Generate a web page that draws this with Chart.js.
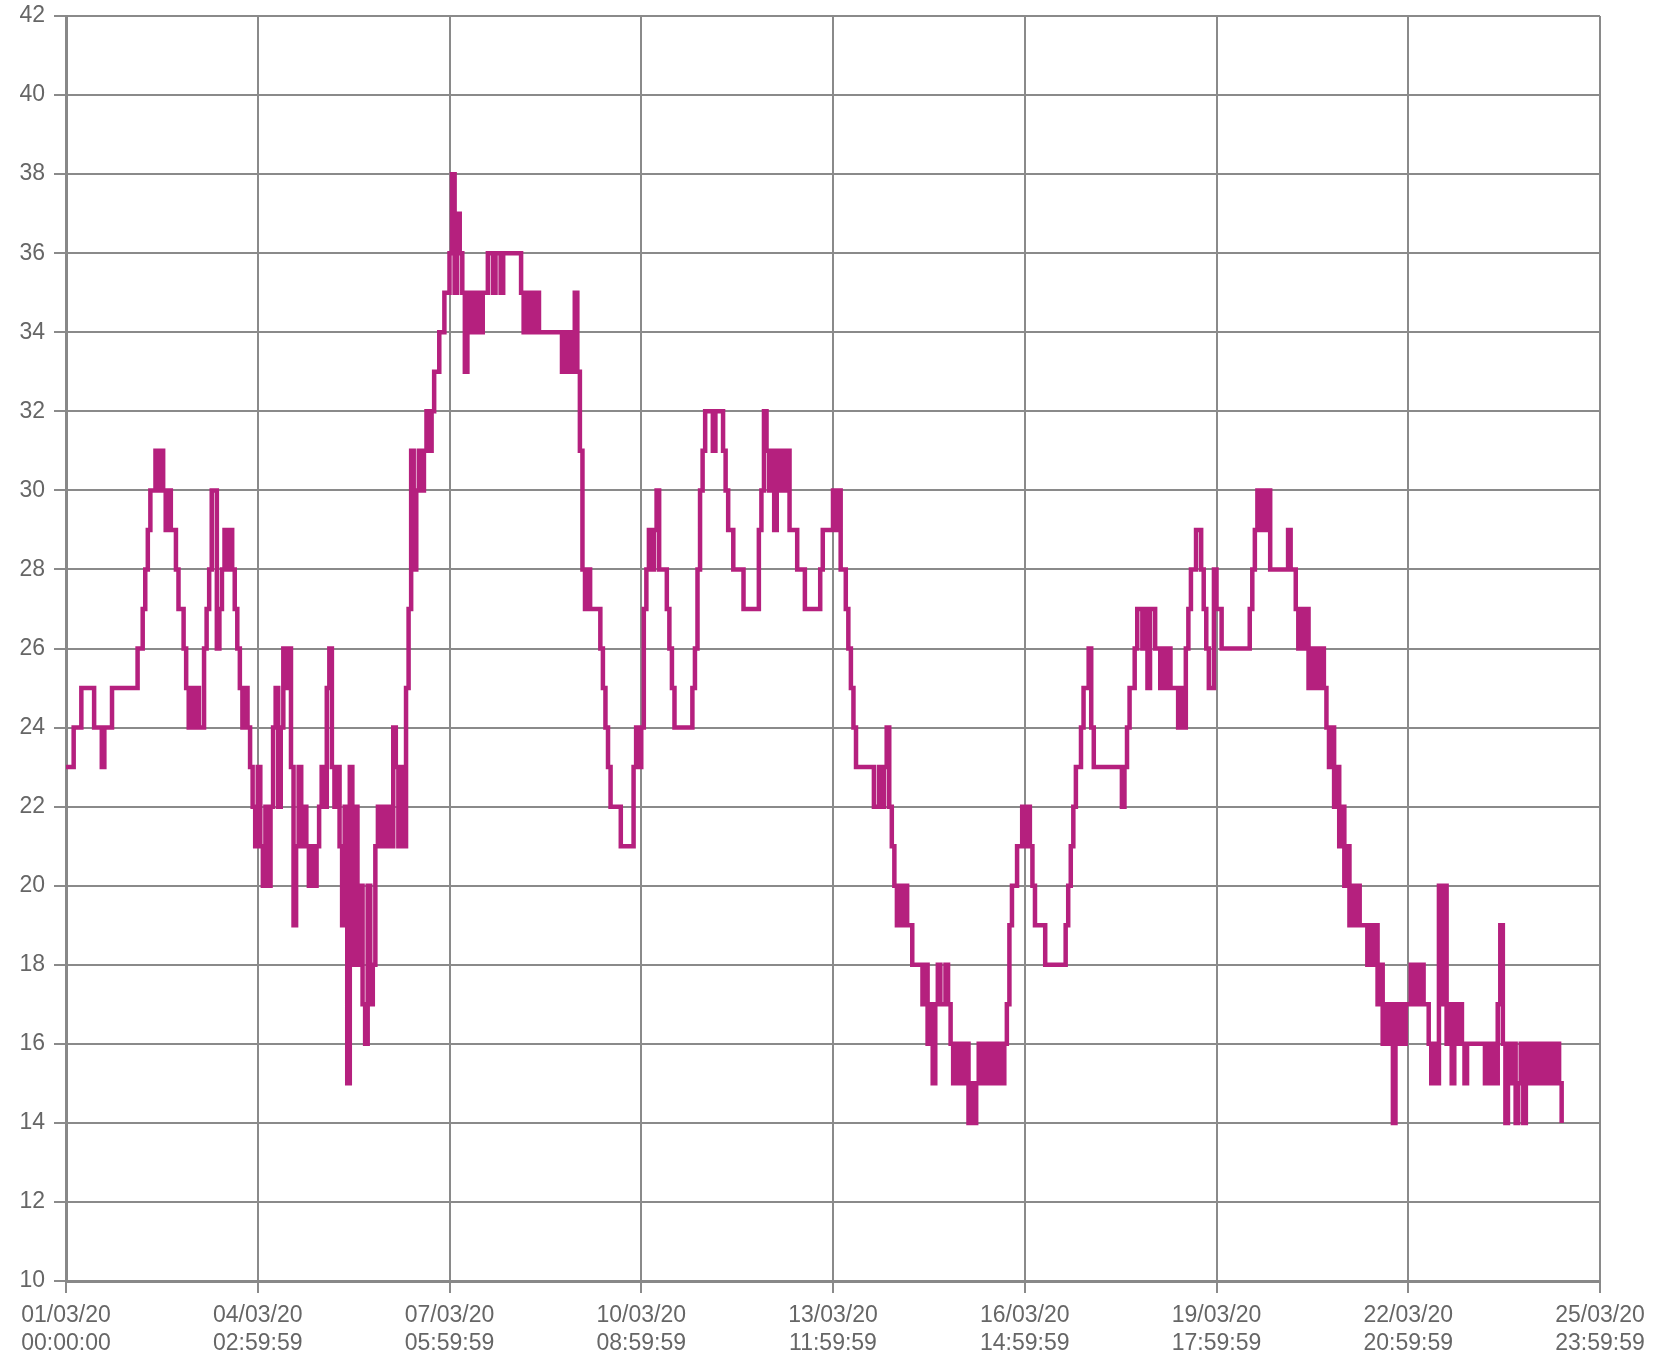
<!DOCTYPE html>
<html>
<head>
<meta charset="utf-8">
<script src="https://cdn.jsdelivr.net/npm/chart.js@4/dist/chart.umd.min.js"></script>
<style>
  html, body { margin: 0; padding: 0; background: #fff; }
  #wrap { width: 1669px; height: 1354px; }
</style>
</head>
<body>
<div id="wrap"><canvas id="tempChart" width="1669" height="1354"></canvas></div>
<script>
// hourly readings from 01/03/20 00:00, stored as [hour, value] at each change
const week1 = [
  [0,23],[3,24],[6,25],[11,24],[14,23],[15,24],[18,25],[28,26],[30,27],[31,28],[32,29],[33,30],
  [35,31],[36,30],[37,31],[38,30],[39,29],[40,30],[41,29],[43,28],[44,27],[46,26],[47,25],
  [48,24],[49,25],[50,24],[51,25],[52,24],[54,26],[55,27],[56,28],[57,30],[59,26],[60,27],
  [61,28],[62,29],[63,28],[64,29],[65,28],[66,27],[67,26],[68,25],[69,24],[70,25],[71,24],
  [72,23],[73,22],[74,21],[75,23],[76,21],[77,20],[78,22],[79,20],[80,22],[81,24],[82,25],
  [83,22],[84,24],[85,26],[86,25],[87,26],[88,23],[89,19],[90,21],[91,23],[92,21],[93,22],
  [94,21],[95,20],[96,21],[97,20],[98,21],[99,22],[100,23],[101,22],[102,25],[103,26],[104,23],
  [105,22],[106,23],[107,21],[108,19],[109,22],[110,15],[111,23],[112,18],[113,22],[114,18],
  [115,20],[116,17],[117,16],[118,20],[119,17],[120,18],[121,21],[122,22],[123,21],[124,22],
  [125,21],[126,22],[127,21],[128,24],[129,23],[130,21],[131,23],[132,21]
];
const week2 = [
  [133,25],[134,27],[135,31],[136,28],[137,30],[138,31],[139,30],[140,31],[141,32],[142,31],
  [143,32],[144,33],[146,34],[148,35],[150,36],[151,38],[152,35],[153,37],[154,36],[155,35],
  [156,33],[157,35],[158,34],[159,35],[160,34],[161,35],[162,34],[163,35],[165,36],[167,35],
  [168,36],[170,35],[171,36],[178,35],[179,34],[180,35],[181,34],[182,35],[183,34],[184,35],
  [185,34],[194,33],[195,34],[196,33],[197,34],[198,33],[199,35],[200,33],[201,31],[202,28],
  [203,27],[204,28],[205,27],[209,26],[210,25],[211,24],[212,23],[213,22],[217,21],[222,23],
  [223,24],[224,23],[225,24],[226,27],[227,28],[228,29],[229,28],[230,29],[231,30],[232,28],
  [235,27],[236,26],[237,25],[238,24],[245,25],[246,26],[247,28],[248,30],[249,31],[250,32],
  [253,31],[254,32],[257,31],[258,30],[259,29]
];
const week3 = [
  [261,28],[265,27],[271,29],[272,30],[273,32],[274,31],[275,30],[276,31],[277,29],[278,31],
  [279,30],[280,31],[281,30],[282,31],[283,29],[286,28],[289,27],[295,28],[296,29],[300,30],
  [301,29],[302,30],[303,28],[305,27],[306,26],[307,25],[308,24],[309,23],[316,22],[318,23],
  [319,22],[320,23],[321,24],[322,22],[323,21],[324,20],[325,19],[326,20],[327,19],[328,20],
  [329,19],[331,18],[335,17],[336,18],[337,16],[338,17],[339,15],[340,17],[341,18],[342,17],
  [344,18],[345,17],[346,16],[347,15],[348,16],[349,15],[350,16],[351,15],[352,16],[353,14],
  [354,15],[355,14],[356,15],[357,16],[358,15],[359,16],[360,15],[361,16],[362,15],[363,16],
  [364,15],[365,16],[366,15],[367,16],[368,17],[369,19],[370,20],[372,21],[374,22],[375,21],
  [376,22],[377,21],[378,20],[379,19],[383,18],[391,19],[392,20],[393,21]
];
const week4 = [
  [394,22],[395,23],[397,24],[398,25],[400,26],[401,24],[402,23],[413,22],[414,23],[415,24],
  [416,25],[418,26],[419,27],[421,26],[422,27],[423,25],[424,27],[426,26],[428,25],[429,26],
  [430,25],[431,26],[432,25],[435,24],[436,25],[437,24],[438,26],[439,27],[440,28],[442,29],
  [444,28],[445,27],[446,26],[447,25],[449,28],[450,27],[452,26],[463,27],[464,28],[465,29],
  [466,30],[467,29],[468,30],[469,29],[470,30],[471,28],[478,29],[479,28],[481,27],[482,26],
  [483,27],[484,26],[485,27],[486,25],[487,26],[488,25],[489,26],[490,25],[491,26],[492,25],
  [493,24],[494,23],[495,24],[496,22],[497,23],[498,21],[499,22],[500,20],[501,21],[502,19],
  [503,20],[504,19],[505,20],[506,19],[509,18],[510,19],[511,18],[512,19],[513,17],[514,18],
  [515,16],[516,17],[517,16],[518,17],[519,14],[520,17],[521,16],[522,17],[523,16],[524,17],
  [526,18],[527,17],[528,18],[529,17],[530,18],[531,17],[533,16],[534,15],[535,16],[536,15],
  [537,20],[538,17],[539,20],[540,16],[541,17],[542,15],[543,17],[544,16],[545,17],[546,16],
  [547,15],[548,16],[555,15],[556,16],[557,15],[558,16],[559,15],[560,17],[561,19],[562,16],
  [563,14],[564,16],[565,15],[566,16],[567,14],[568,15],[569,16],[570,14],[571,16],[572,15],
  [573,16],[574,15],[575,16],[576,15],[577,16],[578,15],[579,16],[580,15],[581,16],[582,15],
  [583,16],[584,15],[585,14]
];

const xTickLabels = [
  ['01/03/20', '00:00:00'], ['04/03/20', '02:59:59'], ['07/03/20', '05:59:59'],
  ['10/03/20', '08:59:59'], ['13/03/20', '11:59:59'], ['16/03/20', '14:59:59'],
  ['19/03/20', '17:59:59'], ['22/03/20', '20:59:59'], ['25/03/20', '23:59:59']
];
const tickStepHours = 75;
const totalHours = 600;
const yMin = 10, yMax = 42, yStep = 2;

const readings = [...week1, ...week2, ...week3, ...week4].map(([h, v]) => ({ x: h, y: v }));

const labelFont = { family: 'Liberation Sans', size: 23 };
const gridStyle = { color: '#8a8a8a', lineWidth: 2, tickLength: 12 };
const borderStyle = { display: true, color: '#888', width: 3 };

const ctx = document.getElementById('tempChart').getContext('2d');
new Chart(ctx, {
  type: 'line',
  data: {
    datasets: [{
      data: readings,
      borderColor: '#b5207e',
      borderWidth: 4.5,
      pointRadius: 0,
      stepped: true,
      fill: false,
      tension: 0
    }]
  },
  options: {
    responsive: false,
    animation: false,
    layout: { padding: { top: 16, right: 69, left: 0, bottom: 0 } },
    plugins: { legend: { display: false }, tooltip: { enabled: false } },
    scales: {
      x: {
        type: 'linear',
        min: 0,
        max: totalHours,
        grid: gridStyle,
        border: borderStyle,
        ticks: {
          stepSize: tickStepHours,
          autoSkip: false,
          maxRotation: 0,
          padding: 9,
          color: '#666',
          font: labelFont,
          callback: (value) => xTickLabels[Math.round(value / tickStepHours)]
        },
        afterFit: (scale) => { scale.height = 73; }
      },
      y: {
        min: yMin,
        max: yMax,
        grid: gridStyle,
        border: borderStyle,
        ticks: {
          stepSize: yStep,
          padding: 9,
          color: '#666',
          font: labelFont
        },
        afterFit: (scale) => { scale.width = 66; scale.paddingTop = 0; }
      }
    }
  }
});
</script>
</body>
</html>
